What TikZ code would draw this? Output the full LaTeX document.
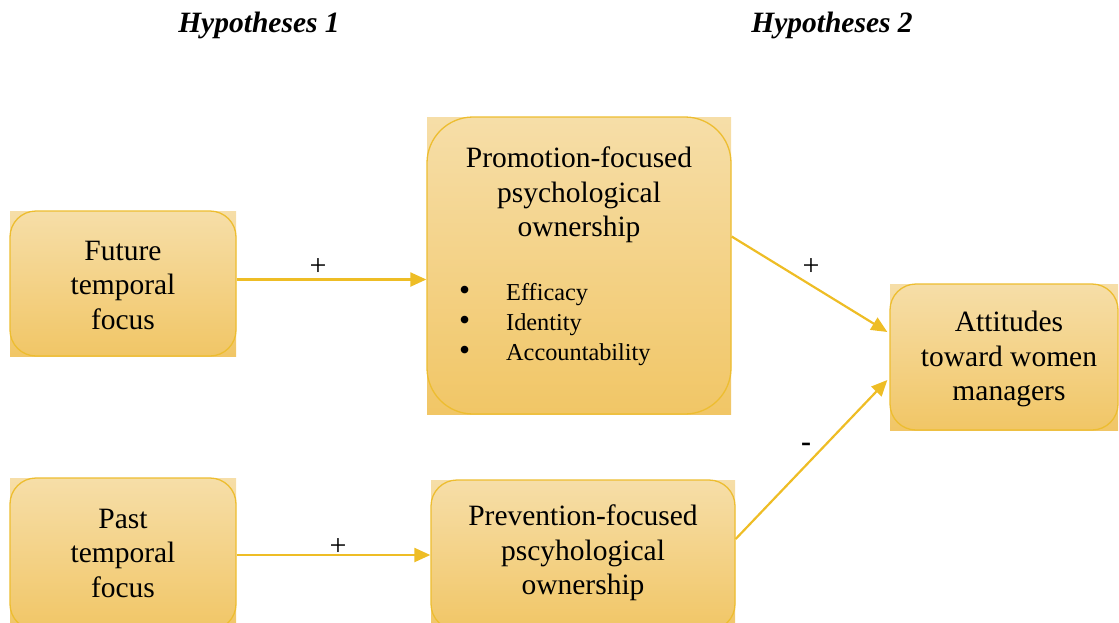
\documentclass[tikz,border=0pt]{standalone}
\usepackage{fontspec}
\setmainfont{Liberation Serif}
\usetikzlibrary{arrows.meta,calc}
\definecolor{ctop}{HTML}{F6DEA8}
\definecolor{cbot}{HTML}{F1C666}
\definecolor{bord}{HTML}{EDBD30}
\definecolor{arrc}{HTML}{EEBD25}
\newcommand{\bigbul}{\makebox[47pt][l]{\smash{\scalebox{1.3}{•}}}}
\tikzset{
  boxbg/.style={top color=ctop, bottom color=cbot},
  boxnode/.style={draw=bord, line width=1.3pt, top color=ctop, bottom color=cbot, inner sep=0pt},
  bigtxt/.style={align=center, font=\fontsize{29.5}{34.5}\selectfont, inner sep=0pt},
  smtxt/.style={align=left, font=\fontsize{24.3}{30}\selectfont, inner sep=0pt},
  ttl/.style={font=\fontsize{29.5}{32}\selectfont\bfseries\itshape, inner sep=0pt},
  sgn/.style={font=\fontsize{30}{30}\selectfont, inner sep=0pt},
  arr/.style={draw=arrc, line width=2.2pt, -{Triangle[length=16pt,width=14pt]}}
}
\begin{document}
\begin{tikzpicture}[x=1pt,y=-1pt]
\useasboundingbox (0,0) rectangle (1119,622);
\clip (0,0) rectangle (1119,622);
% titles
\node[ttl] (h1) at (259,25) {Hypotheses 1};
\node[ttl] (h2) at (832,25) {Hypotheses 2};
% background rectangles
\shade[boxbg] (10,211) rectangle (236,356);
\shade[boxbg] (427,117) rectangle (731,414);
\shade[boxbg] (890,284) rectangle (1118,430);
\shade[boxbg] (10,478) rectangle (236,630);
\shade[boxbg] (431,480) rectangle (735,630);
% boxes
\node[boxnode, rounded corners=26pt, minimum width=226pt, minimum height=145pt] (fut) at (123,283.5) {};
\node[boxnode, rounded corners=46pt, minimum width=304pt, minimum height=297pt] (prom) at (579,265.5) {};
\node[boxnode, rounded corners=26pt, minimum width=228pt, minimum height=146pt] (att) at (1004,357) {};
\node[boxnode, rounded corners=26pt, minimum width=226pt, minimum height=152pt] (past) at (123,554) {};
\node[boxnode, rounded corners=26pt, minimum width=304pt, minimum height=150pt] (prev) at (583,555) {};
% texts
\node[bigtxt] (futt) at (123,285) {Future\\temporal\\focus};
\node[bigtxt] (promt) at (579,195) {Promotion-focused\\psychological\\ownership};
\node[smtxt, anchor=west] (bul) at (459,325) {\bigbul Efficacy\\\bigbul Identity\\\bigbul Accountability};
\node[bigtxt] (attt) at (1009,359) {Attitudes\\toward women\\managers};
\node[bigtxt] (pastt) at (123,553) {Past\\temporal\\focus};
\node[bigtxt] (prevt) at (583,553) {Prevention-focused\\pscyhological\\ownership};
% arrows
\draw[arr] ($(fut.east)+(0,-4)$) -- ($(fut.east -| prom.west)+(0,-4)$);
\draw[arr] ($(past.east)+(0,1)$) -- ($(past.east -| prev.west)+(0,1)$);
\draw[arr] ($(prom.east)+(0,-29)$) -- ($(att.west)+(-2,-25)$);
\draw[arr] ($(prev.east)+(0,-16)$) -- ($(att.west)+(-2,23)$);
% signs
\node[sgn] (s1) at (318,267) {+};
\node[sgn] (s2) at (338,547) {+};
\node[sgn] (s3) at (811,267) {+};
\node[font=\fontsize{30}{30}\selectfont\bfseries, inner sep=0pt] (s4) at (806,447) {-};
\end{tikzpicture}
\end{document}
